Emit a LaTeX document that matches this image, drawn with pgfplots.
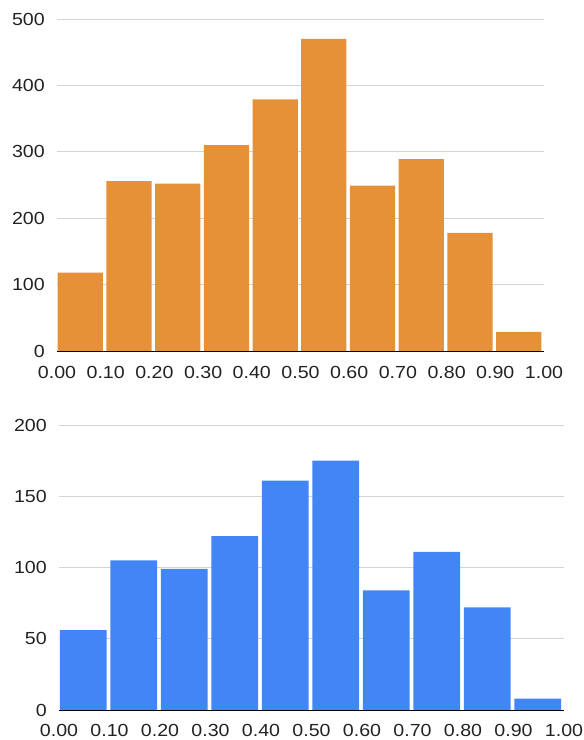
\documentclass[border=0pt]{standalone}
\usepackage{pgfplots}
\pgfplotsset{compat=1.18}
\usepackage{fontspec}
\setmainfont{Liberation Sans}[FakeStretch=1.12]
\definecolor{barorange}{HTML}{E69138}
\definecolor{barblue}{HTML}{4285F4}
\definecolor{gridgray}{HTML}{D3D3D3}
\definecolor{txt}{HTML}{222222}
\definecolor{baseline}{HTML}{333333}
\pgfplotsset{
  histo/.style={
    scale only axis,
    ybar,
    bar width=0.093,
    bar shift=-1pt,
    xmin=0, xmax=1, ymin=0,
    axis line style={draw=none},
    tick style={draw=none},
    ymajorgrids,
    grid style={color=gridgray, line width=0.8pt},
    xtick={0,0.1,0.2,0.3,0.4,0.5,0.6,0.7,0.8,0.9,1},
    xticklabels={0.00,0.10,0.20,0.30,0.40,0.50,0.60,0.70,0.80,0.90,1.00},
    /pgf/number format/assume math mode=true,
    tick label style={font=\fontsize{17.5}{20}\selectfont, text=txt, inner sep=0pt},
    yticklabel style={anchor=east, xshift=-12pt},
    xticklabel style={anchor=north, yshift=-11pt},
  }
}
\begin{document}
\begin{tikzpicture}
\path[use as bounding box] (0pt,0pt) rectangle (584pt,-740pt);
\begin{axis}[histo,
  at={(57pt,-351pt)}, anchor=south west,
  width=487pt, height=332pt,
  ymax=500, ytick={0,100,200,300,400,500}]
\addplot[fill=barorange, draw=none] coordinates {
  (0.05,118) (0.15,256) (0.25,252) (0.35,310) (0.45,379)
  (0.55,470) (0.65,249) (0.75,289) (0.85,178) (0.95,29)};
\draw[baseline, line width=0.8pt] (axis cs:0,0) -- (axis cs:1,0);
\end{axis}
\begin{axis}[histo,
  at={(59pt,-710pt)}, anchor=south west,
  width=505pt, height=285pt,
  ymax=200, ytick={0,50,100,150,200},
  xticklabel style={yshift=1pt}]
\addplot[fill=barblue, draw=none] coordinates {
  (0.05,56) (0.15,105) (0.25,99) (0.35,122) (0.45,161)
  (0.55,175) (0.65,84) (0.75,111) (0.85,72) (0.95,8)};
\draw[baseline, line width=0.8pt] (axis cs:0,0) -- (axis cs:1,0);
\end{axis}
\end{tikzpicture}
\end{document}
